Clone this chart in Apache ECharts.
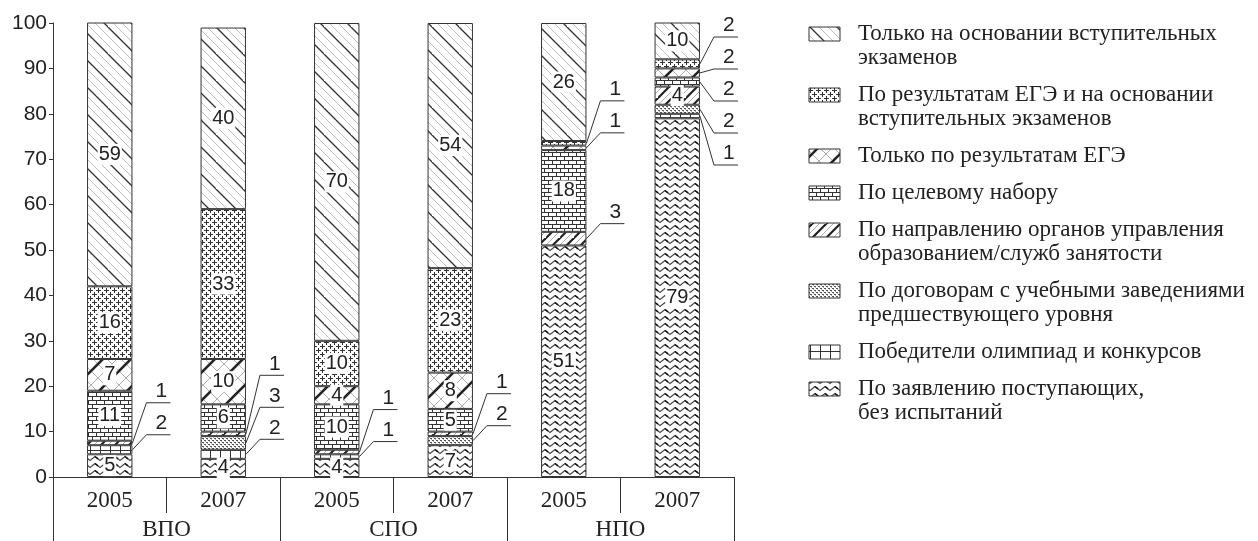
<!DOCTYPE html>
<html>
<head>
<meta charset="utf-8">
<script src="https://cdn.jsdelivr.net/npm/echarts@6/dist/echarts.min.js"></script>
<style>
html, body { margin: 0; padding: 0; background: #fff; }
#chart { width: 1258px; height: 541px; }
</style>
</head>
<body>
<div id="chart"></div>
<script>
// подписи оси X
const years = ['2005', '2007', '2005', '2007', '2005', '2007']
const groups = ['ВПО', 'СПО', 'НПО']

// доли, %, снизу вверх по столбцу
const bezIspytaniy = [5, 4, 4, 7, 51, 79]      // По заявлению поступающих, без испытаний
const pobediteli = [2, 2, 1, 0, 0, 1]          // Победители олимпиад и конкурсов
const dogovory = [0, 3, 0, 2, 0, 2]            // По договорам с учебными заведениями
const napravlenie = [1, 1, 1, 1, 3, 4]         // По направлению органов управления
const tselevoy = [11, 6, 10, 5, 18, 2]         // По целевому набору
const tolkoEge = [7, 10, 4, 8, 1, 2]           // Только по результатам ЕГЭ
const egeIEkzameny = [16, 33, 10, 23, 1, 2]    // По результатам ЕГЭ и вступительных
const tolkoEkzameny = [59, 40, 70, 54, 26, 10] // Только на основании вступительных

const fontNum = '"Liberation Sans", Arial, sans-serif'
const fontSerif = '"Liberation Serif", "DejaVu Serif", serif'

// --- штриховки ---
function makeTile (w, h, draw) {
  const c = document.createElement('canvas')
  c.width = w
  c.height = h
  const ctx = c.getContext('2d')
  ctx.fillStyle = '#fff'
  ctx.fillRect(0, 0, w, h)
  draw(ctx, w, h)
  return { image: c, repeat: 'repeat' }
}
// линия "\" в плитке s x s
function back (ctx, s, o, color, lw) {
  ctx.strokeStyle = color
  ctx.lineWidth = lw
  ;[o - s, o].forEach(function (d) {
    ctx.beginPath()
    ctx.moveTo(-2, d - 2)
    ctx.lineTo(s + 2, s + d + 2)
    ctx.stroke()
  })
}
// линия "/" в плитке s x s
function fwd (ctx, s, o, color, lw) {
  ctx.strokeStyle = color
  ctx.lineWidth = lw
  ;[o, o + s].forEach(function (d) {
    ctx.beginPath()
    ctx.moveTo(-2, d + 2)
    ctx.lineTo(s + 2, d - s - 2)
    ctx.stroke()
  })
}

const hatch = makeTile(27, 27, function (ctx, s) {
  back(ctx, s, 9, '#b5b5b5', 0.9)
  back(ctx, s, 18, '#b5b5b5', 0.9)
  back(ctx, s, 0, '#333', 1.3)
})
const crosses = makeTile(8, 8, function (ctx) {
  ctx.fillStyle = '#333'
  ;[[2, 2], [6, 6]].forEach(function (p) {
    ;[-8, 0, 8].forEach(function (dx) {
      ;[-8, 0, 8].forEach(function (dy) {
        ctx.fillRect(p[0] + dx - 2, p[1] + dy, 5, 1)
        ctx.fillRect(p[0] + dx, p[1] + dy - 2, 1, 5)
      })
    })
  })
})
const egeX = makeTile(28, 28, function (ctx, s) {
  back(ctx, s, 0, '#9a9a9a', 0.8)
  back(ctx, s, 14, '#9a9a9a', 0.8)
  fwd(ctx, s, 0, '#9a9a9a', 0.8)
  fwd(ctx, s, 14, '#9a9a9a', 0.8)
  fwd(ctx, s, 14, '#222', 2.6)
})
const brick = makeTile(16, 8, function (ctx) {
  ctx.fillStyle = '#333'
  ctx.fillRect(0, 0, 16, 1)
  ctx.fillRect(0, 4, 16, 1)
  ctx.fillRect(0, 0, 1, 4)
  ctx.fillRect(8, 0, 1, 4)
  ctx.fillRect(4, 4, 1, 4)
  ctx.fillRect(12, 4, 1, 4)
})
const slash = makeTile(14, 14, function (ctx, s) {
  fwd(ctx, s, 7, '#999', 0.8)
  fwd(ctx, s, 0, '#222', 2.2)
})
const dots = makeTile(4, 4, function (ctx) {
  ctx.fillStyle = '#555'
  ctx.fillRect(0, 0, 2, 1)
  ctx.fillRect(2, 2, 2, 1)
  ctx.fillStyle = '#aaa'
  ctx.fillRect(1, 1, 1, 1)
  ctx.fillRect(3, 3, 1, 1)
})
const cells = makeTile(10, 9, function (ctx) {
  ctx.fillStyle = '#333'
  ctx.fillRect(0, 0, 10, 1)
  ctx.fillRect(0, 0, 1, 9)
})
const zigzag = makeTile(10, 7, function (ctx) {
  ctx.lineJoin = 'miter'
  ctx.lineWidth = 1.1
  ctx.strokeStyle = '#444'
  ctx.beginPath()
  ctx.moveTo(-5, 1.5)
  ctx.lineTo(0, 5.5)
  ctx.lineTo(5, 1.5)
  ctx.lineTo(10, 5.5)
  ctx.lineTo(15, 1.5)
  ctx.stroke()
  ctx.lineWidth = 1.4
  ctx.strokeStyle = '#111'
  ctx.beginPath()
  ctx.moveTo(5, 1.5)
  ctx.lineTo(8, 3.9)
  ctx.stroke()
})

// слои снизу вверх
const layers = [
  { name: 'По заявлению поступающих, без испытаний', legend: 'По заявлению поступающих,\nбез испытаний', values: bezIspytaniy, pattern: zigzag },
  { name: 'Победители олимпиад и конкурсов', legend: 'Победители олимпиад и конкурсов', values: pobediteli, pattern: cells },
  { name: 'По договорам с учебными заведениями предшествующего уровня', legend: 'По договорам с учебными заведениями\nпредшествующего уровня', values: dogovory, pattern: dots },
  { name: 'По направлению органов управления образованием/служб занятости', legend: 'По направлению органов управления\nобразованием/служб занятости', values: napravlenie, pattern: slash },
  { name: 'По целевому набору', legend: 'По целевому набору', values: tselevoy, pattern: brick },
  { name: 'Только по результатам ЕГЭ', legend: 'Только по результатам ЕГЭ', values: tolkoEge, pattern: egeX },
  { name: 'По результатам ЕГЭ и на основании вступительных экзаменов', legend: 'По результатам ЕГЭ и на основании\nвступительных экзаменов', values: egeIEkzameny, pattern: crosses },
  { name: 'Только на основании вступительных экзаменов', legend: 'Только на основании вступительных\nэкзаменов', values: tolkoEkzameny, pattern: hatch }
]

const barSeries = layers.map(function (l) {
  return {
    name: l.name,
    type: 'bar',
    stack: 'all',
    barWidth: '40%',
    data: l.values.map(function (v) {
      return v === 0 ? '-' : { value: v, label: { show: v > 3 } }
    }),
    itemStyle: { color: l.pattern, borderColor: '#333', borderWidth: 1 },
    label: {
      show: true,
      position: 'inside',
      fontFamily: fontNum,
      fontSize: 20,
      color: '#222',
      backgroundColor: '#fff',
      padding: [1, 1, 0, 1]
    },
    emphasis: { disabled: true }
  }
})

// выноски для малых значений
const callouts = {
  type: 'custom',
  xAxisIndex: 0,
  yAxisIndex: 0,
  clip: false,
  silent: true,
  z: 5,
  encode: { x: 0, y: 1 },
  data: years.map(function (y, i) { return [i, 0] }),
  renderItem: function (params, api) {
    const i = params.dataIndex
    const bw = api.size([1, 0])[0] * 0.4
    const right = api.coord([i, 0])[0] + bw / 2
    const yTop = api.coord([i, 100])[1]
    let cum = 0
    const small = []
    layers.forEach(function (l) {
      const v = l.values[i]
      if (v > 0 && v <= 3) small.push({ v: v, py: api.coord([i, cum + v / 2])[1] })
      cum += v
    })
    const clusters = []
    small.forEach(function (s) {
      const last = clusters[clusters.length - 1]
      if (last && last[last.length - 1].py - s.py < 40) last.push(s)
      else clusters.push([s])
    })
    const children = []
    clusters.forEach(function (c) {
      let base = c[0].py - 15
      const topLine = base - (c.length - 1) * 32
      if (topLine < yTop + 14) base += yTop + 14 - topLine
      c.forEach(function (s, k) {
        const ly = base - k * 32
        children.push({
          type: 'polyline',
          shape: { points: [[right, s.py], [right + 14, ly], [right + 38, ly]] },
          style: { stroke: '#333', lineWidth: 1, fill: 'none' }
        })
        children.push({
          type: 'text',
          style: {
            text: String(s.v),
            x: right + 29,
            y: ly - 1,
            align: 'center',
            verticalAlign: 'bottom',
            font: '21px ' + fontNum,
            fill: '#222'
          }
        })
      })
    })
    return { type: 'group', children: children }
  }
}

// легенда (значок по первой строке)
const legendEls = []
let ly = 34
layers.slice().reverse().forEach(function (l) {
  legendEls.push({
    type: 'rect',
    shape: { x: 809, y: ly - 7, width: 31, height: 14 },
    style: { fill: l.pattern, stroke: '#333', lineWidth: 1 }
  })
  legendEls.push({
    type: 'text',
    x: 858,
    y: ly - 12,
    style: { text: l.legend, font: '23px ' + fontSerif, fill: '#222', lineHeight: 24, verticalAlign: 'top' }
  })
  ly += l.legend.split('\n').length * 24 + 13
})

const lineStyle = { color: '#333', width: 1 }
const chart = echarts.init(document.getElementById('chart'))
chart.setOption({
  animation: false,
  backgroundColor: '#fff',
  grid: { left: 53, top: 23, right: 524, bottom: 64, containLabel: false, outerBoundsMode: 'none' },
  xAxis: [
    {
      type: 'category',
      data: years,
      position: 'bottom',
      axisLine: { show: true, lineStyle: lineStyle },
      axisTick: { show: true, length: 36, lineStyle: lineStyle },
      axisLabel: { fontFamily: fontSerif, fontSize: 23, color: '#222', margin: 12 }
    },
    {
      type: 'category',
      data: groups,
      position: 'bottom',
      axisLine: { show: false },
      axisTick: { show: true, length: 66, lineStyle: lineStyle },
      axisLabel: { fontFamily: fontSerif, fontSize: 23, color: '#222', margin: 41 }
    }
  ],
  yAxis: {
    type: 'value',
    min: 0,
    max: 100,
    interval: 10,
    axisLine: { show: true, lineStyle: lineStyle },
    axisTick: { show: true, length: 4, lineStyle: lineStyle },
    axisLabel: { fontFamily: fontNum, fontSize: 21, color: '#222', margin: 6 },
    splitLine: { show: false }
  },
  graphic: legendEls,
  series: barSeries.concat([callouts])
})
</script>
</body>
</html>
